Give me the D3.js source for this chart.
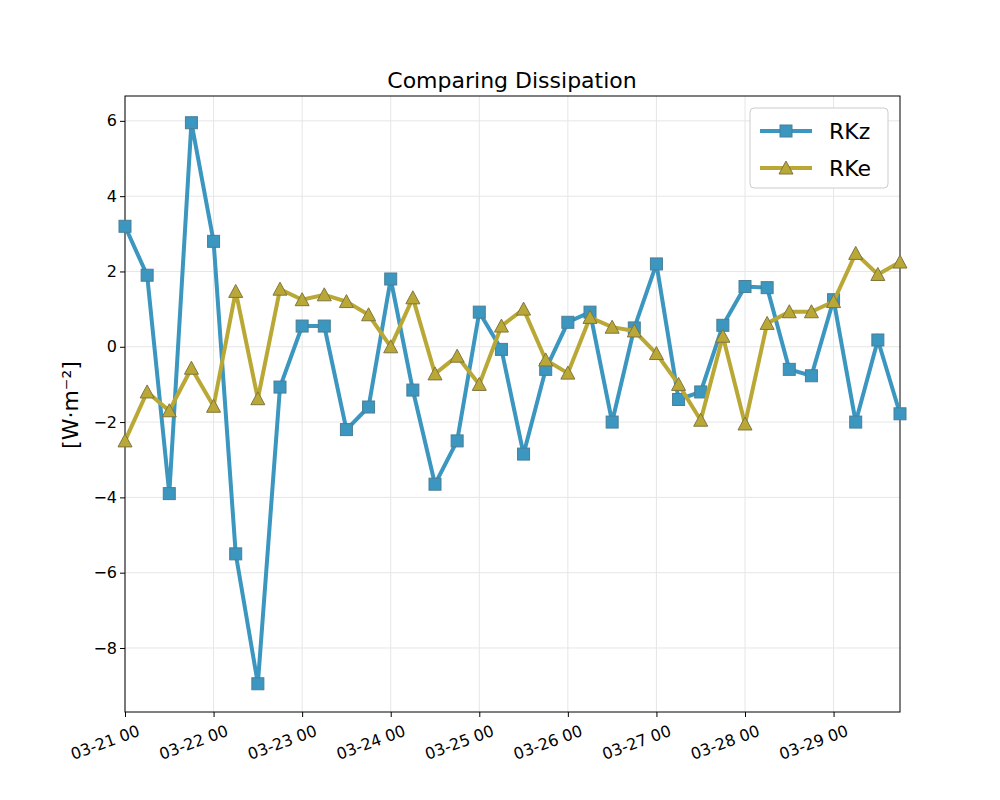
<!DOCTYPE html>
<html><head><meta charset="utf-8">
<script src="https://cdn.jsdelivr.net/npm/d3@7"></script>
<style>body{margin:0;background:#fff;font-family:"DejaVu Sans",sans-serif}</style>
</head><body><svg id="c" width="1000" height="800"></svg>
<script>
const startDate = "2023-03-21T00:00";
const stepHours = 6;
const rkz = [3.2,1.9,-3.9,5.95,2.8,-5.5,-8.95,-1.07,0.55,0.55,-2.2,-1.6,1.8,-1.15,-3.65,-2.5,0.92,-0.07,-2.85,-0.6,0.65,0.92,-2.0,0.5,2.2,-1.4,-1.2,0.57,1.6,1.57,-0.6,-0.77,1.25,-2.0,0.18,-1.78];
const rke = [-2.5,-1.2,-1.7,-0.57,-1.58,1.47,-1.38,1.53,1.25,1.38,1.2,0.85,0.0,1.3,-0.72,-0.25,-1.0,0.55,1.0,-0.35,-0.7,0.78,0.52,0.42,-0.18,-1.0,-1.95,0.28,-2.05,0.62,0.93,0.93,1.2,2.48,1.92,2.25];
const yTicks = [-8,-6,-4,-2,0,2,4,6];
const seriesNames = ["RKz","RKe"];
const colors = ["#3b96c0","#baa836"];

const t0 = new Date(startDate);
const dates = rkz.map((_,i)=>new Date(t0.getTime()+i*stepHours*3600e3));
const svg = d3.select("#c");
const L=125,R=900,T=96,B=712;
const x = d3.scaleTime().domain([dates[0],dates[dates.length-1]]).range([L,R]);
const y = d3.scaleLinear().domain([-9.7,6.66]).range([B,T]);
const days = d3.timeDay.range(dates[0], new Date(dates[dates.length-1].getTime()+1));
const g = svg.append("g");
g.selectAll(".vg").data(days).join("line").attr("x1",d=>x(d)).attr("x2",d=>x(d)).attr("y1",T).attr("y2",B).attr("stroke","#e6e6e6");
g.selectAll(".hg").data(yTicks).join("line").attr("x1",L).attr("x2",R).attr("y1",d=>y(d)).attr("y2",d=>y(d)).attr("stroke","#e6e6e6");
const fmt = d3.timeFormat("%m-%d %H");
const xa = svg.append("g").attr("transform",`translate(0,${B})`).call(d3.axisBottom(x).tickValues(days).tickFormat(fmt).tickSize(5).tickSizeOuter(0));
xa.selectAll("text").attr("font-size",16).attr("font-family","DejaVu Sans").attr("fill","#000").attr("text-anchor","end").attr("dx","0.4em").attr("dy","1.2em").attr("transform","rotate(-20)");
const ya = svg.append("g").attr("transform",`translate(${L},0)`).call(d3.axisLeft(y).tickValues(yTicks).tickFormat(d=>d<0?"\u2212"+(-d):d).tickSize(5).tickSizeOuter(0));
ya.selectAll("text").attr("font-size",16).attr("font-family","DejaVu Sans").attr("fill","#000");
svg.selectAll(".domain").remove();
svg.append("rect").attr("x",L).attr("y",T).attr("width",R-L).attr("height",B-T).attr("fill","none").attr("stroke","#000");
const data=[rkz,rke];
data.forEach((s,k)=>{
  const line=d3.line().x((d,i)=>x(dates[i])).y(d=>y(d));
  const cg=svg.append("g");
  cg.append("path").datum(s).attr("d",line).attr("fill","none").attr("stroke",colors[k]).attr("stroke-width",4);
  s.forEach((v,i)=>drawMarker(cg,k,x(dates[i]),y(v)));
});
function drawMarker(sel,k,cx,cy){
  if(k===0) sel.append("rect").attr("x",cx-6).attr("y",cy-6).attr("width",12).attr("height",12).attr("fill",colors[0]).attr("stroke","#4a7f96").attr("stroke-width",1);
  else sel.append("path").attr("d",`M${cx},${cy-7}L${cx+7},${cy+6}L${cx-7},${cy+6}Z`).attr("fill",colors[1]).attr("stroke","#7f7540").attr("stroke-width",1);
}
svg.append("text").attr("x",512).attr("y",88).attr("text-anchor","middle").attr("font-size",22).text("Comparing Dissipation");
svg.append("text").attr("transform","translate(78,405) rotate(-90)").attr("text-anchor","middle").attr("font-size",22).text("[W·m\u207B\u00B2]");
const lg=svg.append("g");
lg.append("rect").attr("x",750).attr("y",108).attr("width",138).attr("height",80).attr("rx",4).attr("fill","#fff").attr("stroke","#ccc");
seriesNames.forEach((n,k)=>{
  const yy=131+k*37;
  lg.append("line").attr("x1",760).attr("x2",812).attr("y1",yy).attr("y2",yy).attr("stroke",colors[k]).attr("stroke-width",4);
  drawMarker(lg,k,786,yy);
  lg.append("text").attr("x",829).attr("y",yy+8).attr("font-size",22).text(n);
});
</script></body></html>
